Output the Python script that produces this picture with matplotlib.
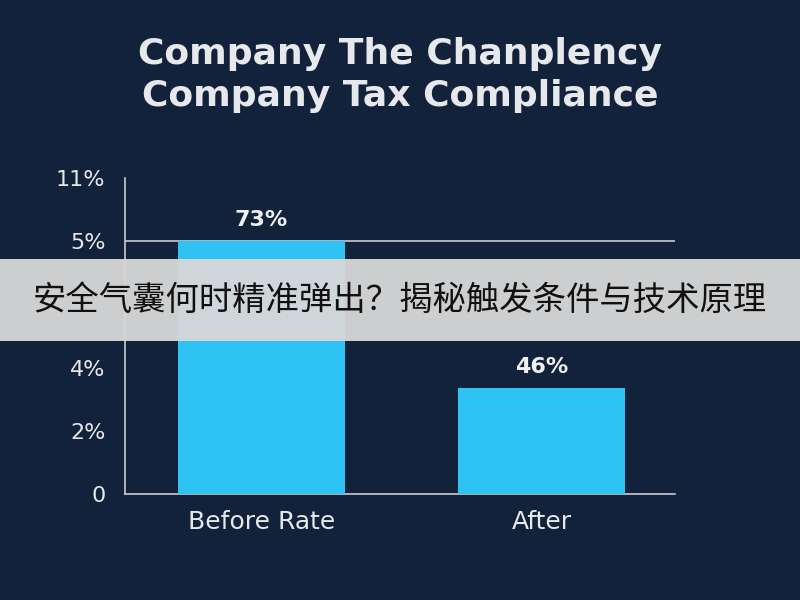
import matplotlib
matplotlib.use("Agg")
import matplotlib.pyplot as plt
from matplotlib.patches import Rectangle

categories = ["Before Rate", "After"]
values = [4.0, 1.67]
bar_labels = ["73%", "46%"]
tick_vals = [0, 1, 2, 3, 4, 5]
tick_labels = ["0", "2%", "4%", "", "5%", "11%"]
title = "Company The Chanplency\nCompany Tax Compliance"
banner = "安全气囊何时精准弹出？揭秘触发条件与技术原理"

bg = "#12223a"
fig = plt.figure(figsize=(8, 6), dpi=100, facecolor=bg)
ax = fig.add_axes([0.156, 0.177, 0.688, 0.526], facecolor=bg)
pos = [0.248, 0.757]
ax.bar(pos, values, width=0.304, color="#2ec3f3", zorder=3)
for p, v, l in zip(pos, values, bar_labels):
    ax.text(p, v + 0.18, l, ha="center", va="bottom", color="#f0f0f0", fontsize=16, fontweight="bold")
ax.set_xlim(0, 1)
ax.set_ylim(0, 5)
ax.set_yticks(tick_vals)
ax.set_yticklabels(tick_labels)
ax.set_xticks(pos)
ax.set_xticklabels(categories)
ax.tick_params(axis="y", colors="#e8e8e8", labelsize=16, length=0, pad=14)
ax.tick_params(axis="x", colors="#e8e8e8", labelsize=18, length=0, pad=12)
ax.axhline(4, color="#c8ccd2", lw=1.2, zorder=1)
for s in ["top", "right"]:
    ax.spines[s].set_visible(False)
for s in ["left", "bottom"]:
    ax.spines[s].set_color("#c8ccd2")
    ax.spines[s].set_linewidth(1.2)

fig.text(0.5, 0.875, title, ha="center", va="center", color="#e6e8ec", fontsize=26,
         fontweight="semibold", linespacing=1.3)
fig.patches.append(Rectangle((0, 1 - 341/600), 1, 82/600, transform=fig.transFigure,
                             facecolor="#d8d8d8", alpha=0.95, zorder=10))
fig.text(0.5, 1 - 300/600, banner, ha="center", va="center", fontsize=24, color="#111111",
         family=["Noto Sans CJK SC", "DejaVu Sans"], zorder=11)
fig.savefig("out.png", facecolor=bg)
